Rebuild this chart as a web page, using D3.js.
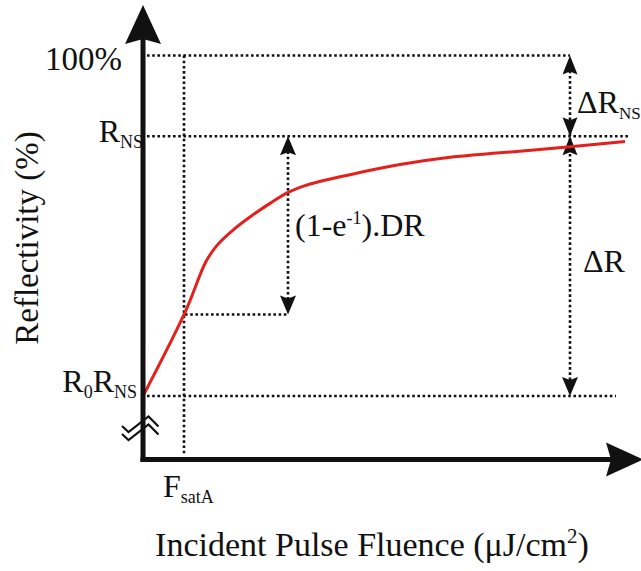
<!DOCTYPE html>
<html>
<head>
<meta charset="utf-8">
<script src="https://cdn.jsdelivr.net/npm/d3@7"></script>
<style>
  html, body { margin: 0; padding: 0; background: #fff; }
  svg { display: block; }
  .lbl { font-family: "Liberation Serif"; fill: #111; }
</style>
</head>
<body>
<svg id="chart" width="641" height="571"></svg>
<script>
// Saturable-absorber reflectivity curve (schematic units, 0-100)
const fluence      = [0, 8.4, 12.6, 14.8, 18.4, 21.8, 25.4, 29.0, 32.4, 41.4, 51.4, 61.4, 71.4, 85.4, 96.4];
const reflectivity = [15.7, 36.4, 49.0, 53.0, 57.2, 60.4, 63.4, 66.1, 67.8, 70.5, 73.0, 74.8, 75.9, 77.4, 78.7];

// Reference levels on the reflectivity axis
const levelNames  = ["full", "rNS", "r0RNS", "knee"];
const levelValues = [100, 80, 15.7, 35.9];
// Reference positions on the fluence axis
const fluenceNames  = ["fSat", "knee", "delta"];
const fluenceValues = [8.4, 29.0, 85.4];

const L = Object.fromEntries(levelNames.map((n, i) => [n, levelValues[i]]));
const F = Object.fromEntries(fluenceNames.map((n, i) => [n, fluenceValues[i]]));

const svg = d3.select("#chart");
const x = d3.scaleLinear().domain([0, 100]).range([143, 643]);
const y = d3.scaleLinear().domain([0, 100]).range([459.5, 55.5]);

function dline(x1, y1, x2, y2) {
  svg.append("line")
    .attr("x1", x1).attr("y1", y1).attr("x2", x2).attr("y2", y2)
    .attr("stroke", "#111").attr("stroke-width", 2.6)
    .attr("stroke-dasharray", "2.6,2.6");
}

// arrowhead with a slightly notched base; (dx, dy) = pointing direction
function arrowHead(tx, ty, dx, dy, len, half, notch) {
  const bx = tx - dx * len, by = ty - dy * len;
  const px = -dy, py = dx;
  const nx = tx - dx * (len - notch), ny = ty - dy * (len - notch);
  svg.append("path")
    .attr("d", `M${tx},${ty} L${bx + px * half},${by + py * half} L${nx},${ny} L${bx - px * half},${by - py * half} Z`)
    .attr("fill", "#111");
}

function txt(xp, yp, size, anchor) {
  return svg.append("text").attr("class", "lbl")
    .attr("x", xp).attr("y", yp)
    .attr("font-size", size)
    .attr("text-anchor", anchor || "start");
}

// Guide lines
const x0 = x(0);
dline(x0 + 4, y(L.full), x(F.delta), y(L.full));
dline(x0 + 4, y(L.rNS), 629, y(L.rNS));
dline(x0 + 4, y(L.r0RNS), 616, y(L.r0RNS));
dline(x(F.fSat) - 1, y(L.full), x(F.fSat) - 1, y(0) - 4);
dline(x(F.fSat), y(L.knee), x(F.knee), y(L.knee));
dline(x(F.knee), y(L.rNS) + 10, x(F.knee), y(L.knee) - 10);
dline(x(F.delta), y(L.full) + 10, x(F.delta), y(L.r0RNS) - 10);

// Annotation arrows
arrowHead(x(F.knee), y(L.rNS), 0, -1, 19, 8, 3);
arrowHead(x(F.knee), y(L.knee), 0, 1, 19, 8, 3);
arrowHead(x(F.delta), y(L.full), 0, -1, 19, 7.5, 3);
arrowHead(x(F.delta), y(L.rNS), 0, 1, 19, 7.5, 3);
arrowHead(x(F.delta), y(L.rNS), 0, -1, 19, 7.5, 3);
arrowHead(x(F.delta), y(L.r0RNS), 0, 1, 19, 8, 3);

// Reflectivity curve
const line = d3.line()
  .x((d, i) => x(fluence[i]))
  .y(d => y(d))
  .curve(d3.curveCatmullRom.alpha(0.5));
svg.append("path")
  .attr("d", line(reflectivity))
  .attr("fill", "none")
  .attr("stroke", "#e3201b")
  .attr("stroke-width", 3);

// Axes
svg.append("line")
  .attr("x1", x0).attr("y1", y(0) + 2.5).attr("x2", x0).attr("y2", 30)
  .attr("stroke", "#111").attr("stroke-width", 5);
arrowHead(x0, 5, 0, -1, 39, 18, 5);
svg.append("line")
  .attr("x1", x0 - 2.5).attr("y1", y(0)).attr("x2", 615).attr("y2", y(0))
  .attr("stroke", "#111").attr("stroke-width", 5);
arrowHead(643, y(0), 1, 0, 37, 17, 5);

// Axis break mark
const brk = d3.line();
[0, 8].forEach(off => {
  svg.append("path")
    .attr("d", brk([[122, 426 + off], [128.5, 432 + off], [148.5, 416.5 + off], [158.5, 426.5 + off]]))
    .attr("fill", "none").attr("stroke", "#111").attr("stroke-width", 2.2);
});

// Axis titles
svg.append("text").attr("class", "lbl")
  .attr("transform", "translate(38,238) rotate(-90)")
  .attr("text-anchor", "middle")
  .attr("font-size", 33)
  .text("Reflectivity (%)");

const xt = txt(372, 556, 34, "middle");
xt.append("tspan").text("Incident Pulse Fluence (\u03BCJ/cm");
xt.append("tspan").attr("font-size", 21).attr("dy", -13).text("2");
xt.append("tspan").attr("dy", 13).text(")");

// Level labels
txt(122, 70, 33, "end").text("100%");

function subLabel(xp, yp, anchor, parts, sub) {
  const t = txt(xp, yp, 32, anchor);
  let shift = 0;
  parts.forEach(([s, isSub]) => {
    const ts = t.append("tspan").text(s);
    const want = isSub ? 6 : 0;
    if (want !== shift) { ts.attr("dy", want - shift); shift = want; }
    if (isSub) ts.attr("font-size", sub || 18);
  });
  return t;
}
subLabel(143, 142, "end", [["R", false], ["NS", true]]);
subLabel(137, 392, "end", [["R", false], ["0", true], ["R", false], ["NS", true]]);
subLabel(163, 497, "start", [["F", false], ["satA", true]]);
subLabel(577, 113, "start", [["\u0394R", false], ["NS", true]], 17);

txt(583, 272, 32).text("\u0394R");

const kt = txt(295, 236, 32);
kt.append("tspan").text("(1-e");
kt.append("tspan").attr("font-size", 18).attr("dy", -12).text("-1");
kt.append("tspan").attr("dy", 12).text(").DR");
</script>
</body>
</html>
